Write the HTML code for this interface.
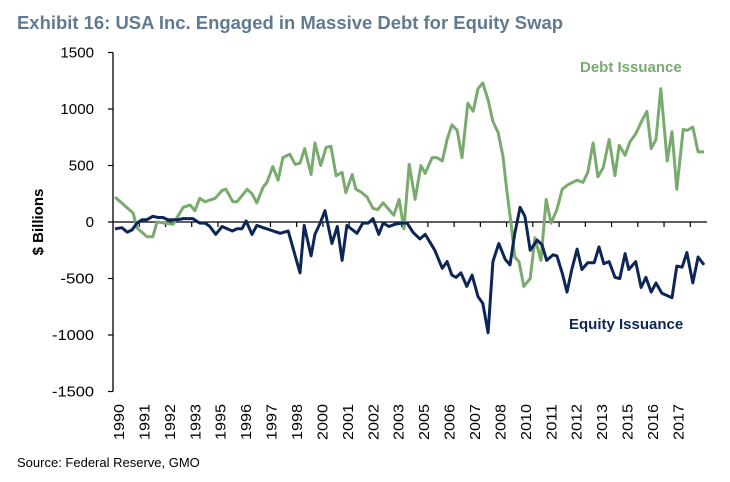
<!DOCTYPE html>
<html><head><meta charset="utf-8"><style>
body{margin:0;background:#fff;}
svg{display:block;font-family:"Liberation Sans",sans-serif;}
</style></head><body>
<svg id="chart" width="730" height="482" viewBox="0 0 730 482">
<text x="17" y="29" font-size="18" font-weight="bold" fill="#5f7a91" textLength="546" lengthAdjust="spacingAndGlyphs">Exhibit 16: USA Inc. Engaged in Massive Debt for Equity Swap</text>
<text transform="translate(43,222) rotate(-90)" text-anchor="middle" font-size="15" font-weight="bold" fill="#000">$ Billions</text>
<g id="yaxis"></g>
<g id="xaxis"></g>
<g id="series"></g>
<text x="580" y="72" font-size="15" font-weight="bold" fill="#7aab6e">Debt Issuance</text>
<text x="569" y="329" font-size="15" font-weight="bold" fill="#0d2657">Equity Issuance</text>
<text x="17" y="467" font-size="13" fill="#000">Source: Federal Reserve, GMO</text>
</svg>
<script>
const yTicks=[1500,1000,500,0,-500,-1000,-1500];
const xLabels=["1990","1991","1992","1993","1995","1996","1997","1998","2000","2001","2002","2003","2005","2006","2007","2008","2010","2011","2012","2013","2015","2016","2017"];
const debtQ=[0,3.4,4.1,6,7.1,7.9,10.9,12.8,14.1,15,15.9,16.9,18.8,20.1,20.8,22.1,22.9,24.8,25.7,26.6,27.8,28.5,29.6,30.6,31.5,32.8,33.8,34.7,35.6,36.8,37.5,38.6,39.6,40.5,41.5,42.6,43.3,44.5,45.2,46.3,47.3,48.4,49.3,50.3,51.4,52.3,53.3,54.2,55.2,56.3,57.4,58.2,59.5,60.4,61.4,62.3,63.2,64.2,65.1,66.2,67.2,68.1,69,70,70.9,71.9,72.8,73.5,74.3,75,75.8,76.7,77.9,78.8,79.9,80.9,81.8,82.9,83.9,85,86.7,87.8,88.7,89.7,90.6,91.6,92.7,93.8,94.6,95.7,96.6,97.7,98.9,99.8,100.6,101.5,102.4,103.6,104.5,105.4,106.6,107.3,108.4,109.4,110.5];
const debtV=[220,80,-50,-130,-130,0,-20,130,150,100,210,180,210,280,290,180,180,290,250,170,310,350,490,370,570,600,510,520,650,420,700,500,660,670,410,440,260,420,290,260,220,120,110,170,110,60,200,-60,510,200,500,430,570,570,540,730,860,810,570,1050,980,1180,1230,1080,890,790,580,280,-10,-310,-350,-570,-500,-140,-340,200,-10,110,290,330,370,350,440,700,400,480,730,410,680,590,710,780,900,980,650,730,1180,540,800,290,820,810,840,620,620];
const eqQ=[0,1.3,2.3,3.2,4.1,5.1,6,7.1,8.1,9,9.9,11.8,12.8,14.6,15.9,16.9,17.8,18.9,20.1,22,22.9,23.8,24.6,25.7,26.6,27.8,29.1,31,32.5,34.7,35.5,36.8,37.5,38.5,39.4,40.7,41.7,42.6,43.5,45.4,46.5,47.5,48.4,49.5,50.3,51.4,52.5,53.8,54.8,55.9,57.2,58.2,59.1,60,61.4,62.3,63.2,64,64.9,66,67,68.1,69,70,70.9,72,73.2,74.1,75,76,76.9,77.9,79.2,80.1,81,82.2,82.9,83.9,84.8,85.7,86.7,87.6,88.7,89.9,90.8,91.7,92.7,93.8,94.7,95.7,96.4,97.7,98.7,99.6,100.6,101.5,102.6,104.5,105.4,106.4,107.3,108.4,109.4,110.5];
const eqV=[-60,-50,-90,-70,-10,20,20,50,40,40,20,20,30,30,-10,-10,-40,-110,-40,-80,-60,-60,10,-110,-30,-50,-70,-100,-80,-450,-30,-300,-110,-10,100,-190,-40,-340,-30,-100,-10,-10,30,-110,-10,-40,-20,-10,-10,-90,-150,-110,-180,-250,-410,-350,-470,-490,-450,-570,-470,-660,-720,-980,-350,-190,-330,-380,-100,130,50,-250,-160,-200,-340,-290,-300,-450,-620,-420,-240,-420,-360,-360,-220,-370,-350,-490,-500,-280,-420,-350,-580,-490,-620,-540,-630,-670,-390,-400,-270,-540,-310,-380];

const NS='http://www.w3.org/2000/svg';
const y0=222, pxPer=56.5/500;
const yS=v=>y0-v*pxPer;
const xS=q=>115+q*5.33;
const axisX=113, axisEnd=707;
function mk(tag,attrs,parent){const e=document.createElementNS(NS,tag);for(const k in attrs)e.setAttribute(k,attrs[k]);parent.appendChild(e);return e;}
const ya=document.getElementById('yaxis'), xa=document.getElementById('xaxis'), sg=document.getElementById('series');
const yl=mk('line',{x1:axisX,x2:axisX,y1:yS(1500),y2:yS(-1500),stroke:'#000','stroke-width':1.3},ya);


yTicks.forEach(v=>{
  const t=mk('line',{x1:axisX-5,x2:axisX,y1:yS(v),y2:yS(v),stroke:'#000','stroke-width':1.2},ya);
  
  
  const l=mk('text',{x:94,y:yS(v)+5,'text-anchor':'end','font-size':15,fill:'#000',textLength:String(v).length*8.4,lengthAdjust:'spacingAndGlyphs'},ya);
  l.textContent=v;
  
  
});
const xl=mk('line',{x1:axisX,x2:axisEnd,y1:y0,y2:y0,stroke:'#000','stroke-width':1.3},xa);


xLabels.forEach((s,k)=>{
  if(k>0){
    const tx=113+k*26.24;
    const t=mk('line',{x1:tx,x2:tx,y1:y0,y2:y0+5,stroke:'#000','stroke-width':1.2},xa);
    
    
  }
  const lx=119+k*25.43;
  const l=mk('text',{transform:`translate(${lx+5},440) rotate(-90)`,'font-size':15,fill:'#000',textLength:36,lengthAdjust:'spacingAndGlyphs'},xa);
  l.textContent=s;
  
  
});
function line(qs,vs,color,name){
  const d=qs.map((q,i)=>(i?'L':'M')+xS(q).toFixed(1)+','+yS(vs[i]).toFixed(1)).join('');
  const p=mk('path',{d:d,fill:'none',stroke:color,'stroke-width':3,'stroke-linejoin':'round'},sg);
  
  
}
line(debtQ,debtV,'#7aab6e','debt-issuance-line');
line(eqQ,eqV,'#0d2657','equity-issuance-line');
</script>
</body></html>
